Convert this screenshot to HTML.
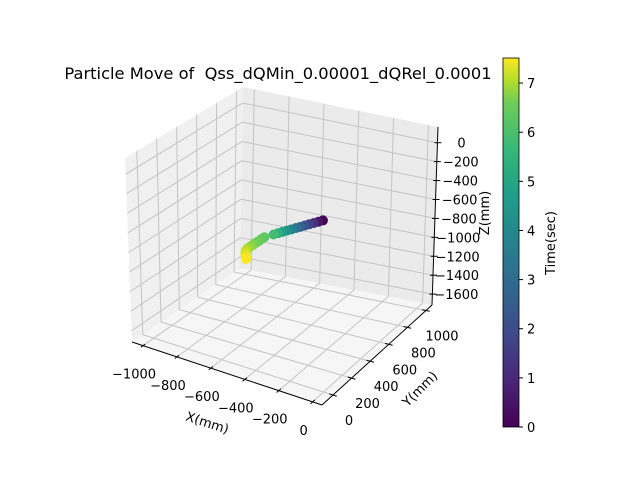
<!DOCTYPE html>
<html><head><meta charset="utf-8"><style>
html,body{margin:0;padding:0;background:#fff;}
svg{display:block;font-family:"DejaVu Sans","Liberation Sans",sans-serif;}
</style></head><body>
<svg id="chart" width="640" height="480" viewBox="0 0 640 480">
<defs>
<linearGradient id="vir" x1="0" y1="1" x2="0" y2="0">
<stop offset="0" stop-color="#440154"/><stop offset="0.13" stop-color="#482878"/><stop offset="0.25" stop-color="#3e4989"/><stop offset="0.38" stop-color="#31688e"/><stop offset="0.5" stop-color="#26828e"/><stop offset="0.63" stop-color="#1f9e89"/><stop offset="0.75" stop-color="#35b779"/><stop offset="0.88" stop-color="#6ece58"/><stop offset="0.94" stop-color="#b5de2b"/><stop offset="1" stop-color="#fde725"/>
</linearGradient>
</defs>
<text x="278" y="79" font-size="16.3" text-anchor="middle" style="white-space:pre" xml:space="preserve">Particle Move of  Qss_dQMin_0.00001_dQRel_0.0001</text>
<g id="panes"></g><g id="grid"></g><g id="axes"></g><g id="pts"></g>
<rect x="503" y="58" width="16" height="369" fill="url(#vir)"/>
<g id="cbar"></g>
<text transform="translate(555,243) rotate(-90)" font-size="13" text-anchor="middle">Time(sec)</text>
<text transform="translate(206,427) rotate(18)" font-size="13" text-anchor="middle">X(mm)</text>
<text transform="translate(423,392) rotate(-45)" font-size="13" text-anchor="middle">Y(mm)</text>
<text transform="translate(489,213) rotate(-90)" font-size="13" text-anchor="middle">Z(mm)</text>
</svg>
<script>
const xTicks=[-1000,-800,-600,-400,-200,0];
const yTicks=[0,200,400,600,800,1000];
const zTicks=[0,-200,-400,-600,-800,-1000,-1200,-1400,-1600];
const cbTicks=[0,1,2,3,4,5,6,7];
const ptX=[-555,-581,-607,-633,-659,-684,-710,-736,-762,-788,-813,-839,-892,-908,-923,-939,-955,-970,-985,-993,-999,-1001,-1000,-998,-996];
const ptY=[1000,1000,1000,1000,1000,1000,1000,1000,1000,1000,1000,1000,1000,1000,1000,1000,1000,1000,1000,1000,1000,1000,1000,1000,1000];
const ptZ=[-993,-1016,-1039,-1061,-1084,-1107,-1129,-1152,-1175,-1198,-1220,-1243,-1291,-1315,-1340,-1364,-1389,-1413,-1438,-1455,-1472,-1490,-1510,-1533,-1555];
const ptT=[0,0.5,1.1,1.6,2.1,2.7,3.2,3.8,4.3,4.8,5.4,5.9,6.3,6.4,6.5,6.6,6.7,6.8,6.9,7.0,7.1,7.2,7.3,7.4,7.5];

const XR=[-1065,55],YR=[-118,1065],ZR=[-1715,166],TMAX=7.51;
const C={"000":[132,342],"001":[125,158],"100":[322,405],"101":[318,212],"110":[432,305],"111":[438,127],"010":[240,268],"011":[243,87]};
function P(u,v,w){let x=0,y=0;for(const a of[0,1])for(const b of[0,1])for(const c of[0,1]){const k=(a?u:1-u)*(b?v:1-v)*(c?w:1-w);const p=C[""+a+b+c];x+=k*p[0];y+=k*p[1];}return[x,y];}
const nx=x=>(x-XR[0])/(XR[1]-XR[0]),ny=y=>(y-YR[0])/(YR[1]-YR[0]),nz=z=>(z-ZR[0])/(ZR[1]-ZR[0]);
const NS="http://www.w3.org/2000/svg";
function mk(t,at,par){const e=document.createElementNS(NS,t);for(const k in at)e.setAttribute(k,at[k]);document.getElementById(par).appendChild(e);return e;}
function poly(pts,fill,par){return mk("polygon",{points:pts.map(p=>p.join(",")).join(" "),fill:fill},par);}
function line(a,b,st,w,par){return mk("line",{x1:a[0],y1:a[1],x2:b[0],y2:b[1],stroke:st,"stroke-width":w},par);}
let e;
e=poly([P(0,0,0),P(0,1,0),P(0,1,1),P(0,0,1)],"#f0f0f0","panes");

e=poly([P(0,1,0),P(1,1,0),P(1,1,1),P(0,1,1)],"#ebebeb","panes");

e=poly([P(0,0,0),P(1,0,0),P(1,1,0),P(0,1,0)],"#f6f6f6","panes");

const G="#c4c4c4";
xTicks.forEach(t=>{const u=nx(t);
 e=line(P(u,0,0),P(u,1,0),G,1,"grid");
 e=line(P(u,1,0),P(u,1,1),G,1,"grid");
 e=line(P(u,-0.02,0),P(u,0.02,0),"#000",1,"axes");
 const p=P(u,0,0);
 e=mk("text",{x:p[0]-9,y:p[1]+33,"font-size":13,"text-anchor":"middle"},"axes");e.textContent=(t<0?"\u2212"+(-t):t);
 });
yTicks.forEach(t=>{const v=ny(t);
 e=line(P(0,v,0),P(1,v,0),G,1,"grid");
 e=line(P(0,v,0),P(0,v,1),G,1,"grid");
 e=line(P(0.98,v,0),P(1.02,v,0),"#000",1,"axes");
 const p=P(1,v,0);
 e=mk("text",{x:p[0]+16,y:p[1]+30,"font-size":13,"text-anchor":"middle"},"axes");e.textContent=t;
 });
zTicks.forEach(t=>{const w=nz(t);
 e=line(P(0,0,w),P(0,1,w),G,1,"grid");
 e=line(P(0,1,w),P(1,1,w),G,1,"grid");
 const p=P(1,1,w);
 e=line([p[0]-3,p[1]],[p[0]+4,p[1]],"#000",1,"axes");
 e=mk("text",{x:p[0]+24,y:p[1]+5,"font-size":13,"text-anchor":"middle"},"axes");e.textContent=(t<0?"\u2212"+(-t):t);
 });
e=line(P(0,0,0),P(1,0,0),"#000",1,"axes");
e=line(P(1,0,0),P(1,1,0),"#000",1,"axes");
e=line(P(1,1,0),P(1,1,1),"#000",1,"axes");
const VS=[[0,[68,1,84]],[0.13,[72,40,120]],[0.25,[62,73,137]],[0.38,[49,104,142]],[0.5,[38,130,142]],[0.63,[31,158,137]],[0.75,[53,183,121]],[0.88,[110,206,88]],[0.94,[181,222,43]],[1,[253,231,37]]];
function vir(f){f=Math.max(0,Math.min(1,f));for(let i=1;i<VS.length;i++){if(f<=VS[i][0]){const a=VS[i-1],b=VS[i],k=(f-a[0])/(b[0]-a[0]);return "rgb("+a[1].map((c,j)=>Math.round(c+k*(b[1][j]-c))).join(",")+")";}}return "rgb(253,231,37)";}
for(let i=0;i<ptX.length;i++){const p=P(nx(ptX[i]),ny(ptY[i]),nz(ptZ[i]));
 e=mk("circle",{cx:p[0],cy:p[1],r:5,fill:vir(ptT[i]/TMAX)},"pts");
 
 }
cbTicks.forEach(t=>{const y=427-t/TMAX*369;
 e=line([519,y],[523,y],"#000",1,"cbar");
 e=mk("text",{x:527,y:y+5,"font-size":13},"cbar");e.textContent=t;
 });
e=mk("rect",{x:503,y:58,width:16,height:369,fill:"none",stroke:"#000","stroke-width":0.8},"cbar");

</script>
</body></html>
